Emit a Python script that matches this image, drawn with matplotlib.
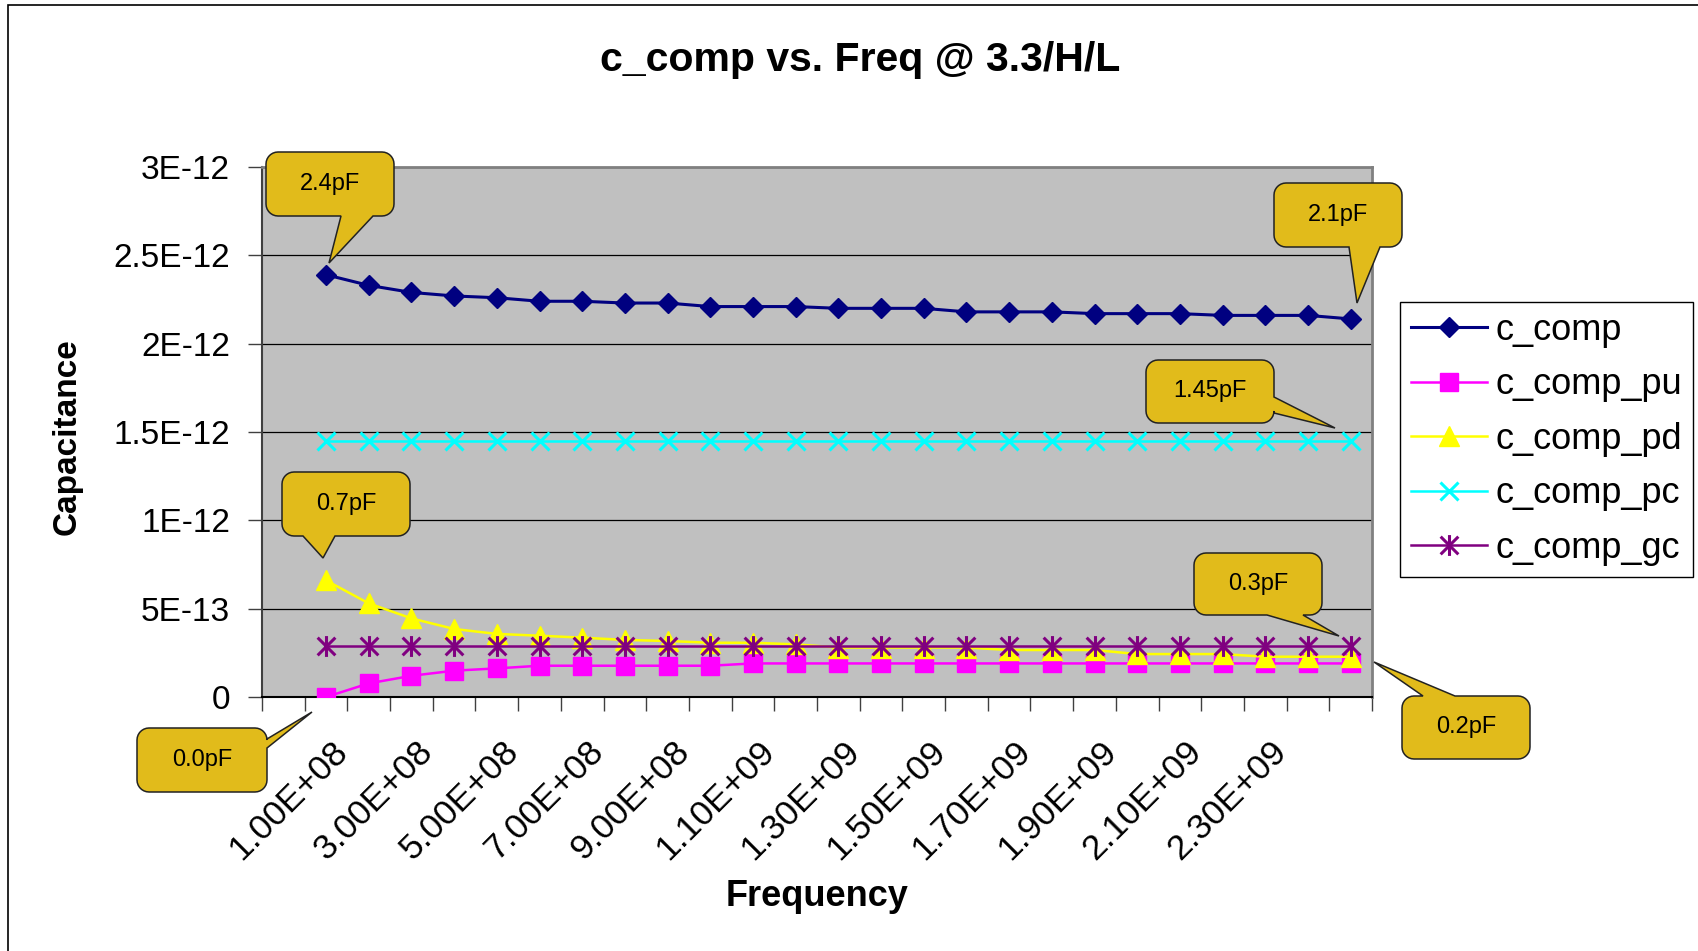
"""Recreate the c_comp vs. Freq chart with Excel-style callouts."""
import matplotlib

matplotlib.use("Agg")
import matplotlib.pyplot as plt
import numpy as np
from matplotlib.patches import Polygon, Rectangle
from matplotlib.path import Path
from matplotlib.transforms import ScaledTranslation

plt.rcParams["font.family"] = ["Liberation Sans", "DejaVu Sans"]

# ---- data (capacitance in pF) ----
freq_labels = [
    "1.00E+08", "2.00E+08", "3.00E+08", "4.00E+08", "5.00E+08",
    "6.00E+08", "7.00E+08", "8.00E+08", "9.00E+08", "1.00E+09",
    "1.10E+09", "1.20E+09", "1.30E+09", "1.40E+09", "1.50E+09",
    "1.60E+09", "1.70E+09", "1.80E+09", "1.90E+09", "2.00E+09",
    "2.10E+09", "2.20E+09", "2.30E+09", "2.40E+09", "2.50E+09",
]
c_comp = [2.39, 2.33, 2.29, 2.27, 2.26, 2.24, 2.24, 2.23, 2.23, 2.21, 2.21, 2.21, 2.20,
          2.20, 2.20, 2.18, 2.18, 2.18, 2.17, 2.17, 2.17, 2.16, 2.16, 2.16, 2.14]
c_comp_pu = [0.0, 0.077, 0.12, 0.149, 0.162, 0.177, 0.177, 0.177, 0.177, 0.177, 0.19, 0.19, 0.19,
             0.19, 0.19, 0.19, 0.19, 0.19, 0.19, 0.19, 0.19, 0.19, 0.19, 0.19, 0.19]
c_comp_pd = [0.66, 0.53, 0.445, 0.385, 0.357, 0.347, 0.336, 0.323, 0.317, 0.307, 0.307, 0.298, 0.28,
             0.28, 0.28, 0.28, 0.266, 0.266, 0.266, 0.243, 0.243, 0.243, 0.228, 0.228, 0.228]
c_comp_pc = [1.45, 1.45, 1.45, 1.45, 1.45, 1.45, 1.45, 1.45, 1.45, 1.45, 1.45, 1.45, 1.45,
             1.45, 1.45, 1.45, 1.45, 1.45, 1.45, 1.45, 1.45, 1.45, 1.45, 1.45, 1.45]
c_comp_gc = [0.29, 0.29, 0.29, 0.29, 0.29, 0.29, 0.29, 0.29, 0.29, 0.29, 0.29, 0.29, 0.29,
             0.29, 0.29, 0.29, 0.29, 0.29, 0.29, 0.29, 0.29, 0.29, 0.29, 0.29, 0.29]
series_names = ["c_comp", "c_comp_pu", "c_comp_pd", "c_comp_pc", "c_comp_gc"]
ytick_vals = [0, 0.5e-12, 1e-12, 1.5e-12, 2e-12, 2.5e-12, 3e-12]
ytick_labels = ["0", "5E-13", "1E-12", "1.5E-12", "2E-12", "2.5E-12", "3E-12"]

# callouts: text, box (x0, y0, x1, y1) in pixels from top-left, side of tail, tail base, tip
callouts = [
    ("2.4pF", (266, 152, 394, 216), "bottom", (341, 373), (329, 263)),
    ("2.1pF", (1274, 183, 1402, 247), "bottom", (1349, 1380), (1357, 303)),
    ("1.45pF", (1146, 360, 1274, 423), "right", (397, 413), (1335, 428)),
    ("0.7pF", (282, 472, 410, 536), "bottom", (303, 335), (323, 558)),
    ("0.3pF", (1194, 553, 1322, 615), "bottom", (1267, 1303), (1339, 636)),
    ("0.2pF", (1402, 696, 1530, 759), "top", (1423, 1455), (1374, 662)),
    ("0.0pF", (137, 728, 267, 792), "right", (739, 748), (312, 712)),
]

W, H = 1698, 951
CALLOUT_FILL = "#E1BB1B"


def callout_polygon(box, side, base, tip, r=12):
    """Rounded rectangle outline with a wedge, in figure-fraction coords."""
    x0, y0, x1, y1 = box
    pts = []

    def arc(cx, cy, a0, a1):
        for a in np.linspace(np.radians(a0), np.radians(a1), 8):
            pts.append((cx + r * np.cos(a), cy + r * np.sin(a)))

    arc(x0 + r, y0 + r, 180, 270)
    if side == "top":
        pts += [(base[0], y0), tip, (base[1], y0)]
    arc(x1 - r, y0 + r, 270, 360)
    if side == "right":
        pts += [(x1, base[0]), tip, (x1, base[1])]
    arc(x1 - r, y1 - r, 0, 90)
    if side == "bottom":
        pts += [(base[1], y1), tip, (base[0], y1)]
    arc(x0 + r, y1 - r, 90, 180)
    if side == "left":
        pts += [(x0, base[1]), tip, (x0, base[0])]
    return [(x / W, 1 - y / H) for x, y in pts]


fig = plt.figure(figsize=(W / 100, H / 100), dpi=100)
ax = fig.add_axes([262 / W, 1 - 697 / H, (1372 - 262) / W, (697 - 167) / H])
ax.set_facecolor("#C0C0C0")

x_pos = np.arange(1, len(freq_labels) + 1) + 0.5
star = Path(
    [(0, -1), (0, 1), (-0.85, -0.85), (0.85, 0.85), (-0.85, 0.85), (0.85, -0.85)],
    [Path.MOVETO, Path.LINETO, Path.MOVETO, Path.LINETO, Path.MOVETO, Path.LINETO],
)
styles = [
    dict(color="#000080", marker="D", markersize=10.5, lw=2.2),
    dict(color="#FF00FF", marker="s", markersize=12.5, lw=1.8),
    dict(color="#FFFF00", marker="^", markersize=14, lw=1.8),
    dict(color="#00FFFF", marker="x", markersize=13, lw=1.8, markeredgewidth=2.2),
    dict(color="#800080", marker=star, markersize=15, lw=1.8, markeredgewidth=2.2),
]
handles = []
for name, vals, st in zip(series_names, [c_comp, c_comp_pu, c_comp_pd, c_comp_pc, c_comp_gc], styles):
    (ln,) = ax.plot(x_pos, np.asarray(vals) * 1e-12, label=name, zorder=3, **st)
    handles.append(ln)

ax.set_xlim(0, len(freq_labels) + 1)
ax.set_ylim(0, 3e-12)
ax.set_yticks(ytick_vals)
ax.set_yticklabels(ytick_labels)
ax.yaxis.grid(True, color="black", lw=0.9)
ax.set_axisbelow(True)
ax.tick_params(axis="y", length=10, width=1, color="#404040", pad=13, labelsize=24)

ax.set_xticks(np.arange(0, len(freq_labels) + 2), minor=True)
ax.set_xticks([])
ax.tick_params(axis="x", which="minor", length=10, width=1, color="#404040")
offset = ScaledTranslation(16.5 / 100, -49.5 / 100, fig.dpi_scale_trans)
for xp, lab in zip(x_pos[:-1:2], freq_labels[:-1:2]):
    ax.text(xp, 0, lab, transform=ax.get_xaxis_transform() + offset, rotation=45,
            rotation_mode="anchor", ha="right", va="center", fontsize=25.5)

for s in ("top", "right"):
    ax.spines[s].set_color("#808080")
    ax.spines[s].set_linewidth(2)
ax.spines["left"].set_color("#404040")
ax.spines["left"].set_linewidth(1.5)
ax.spines["bottom"].set_color("black")
ax.spines["bottom"].set_linewidth(1.5)

leg = ax.legend(handles=handles, loc="upper left", bbox_to_anchor=(1400 / W, 1 - 302 / H),
                bbox_transform=fig.transFigure, borderaxespad=0, fancybox=False,
                edgecolor="black", framealpha=1, borderpad=0.3, handlelength=2.1,
                handletextpad=0.25, labelspacing=0.54, fontsize=26)
leg.get_frame().set_linewidth(1.0)

fig.text(860 / W, 1 - 60 / H, "c_comp vs. Freq @ 3.3/H/L", ha="center", va="center",
         fontsize=29.5, fontweight="bold")
fig.text(817 / W, 1 - 896 / H, "Frequency", ha="center", va="center", fontsize=26,
         fontweight="bold")
fig.text(67 / W, 1 - 437 / H, "Capacitance", ha="center", va="center", rotation=90,
         fontsize=24, fontweight="bold")

for text, box, side, base, tip in callouts:
    poly = Polygon(callout_polygon(box, side, base, tip), closed=True, transform=fig.transFigure,
                   facecolor=CALLOUT_FILL, edgecolor="#222222", lw=1.1, zorder=10)
    fig.add_artist(poly)
    fig.text((box[0] + box[2]) / 2 / W, 1 - (box[1] + box[3]) / 2 / H, text, ha="center",
             va="center", fontsize=17, zorder=11)

# outer chart frame
fig.add_artist(Rectangle((7.5 / W, -0.1), 1.2, 1.1 - 5 / H, transform=fig.transFigure,
                         fill=False, edgecolor="black", lw=1.2))

fig.savefig("out.png", dpi=100)
